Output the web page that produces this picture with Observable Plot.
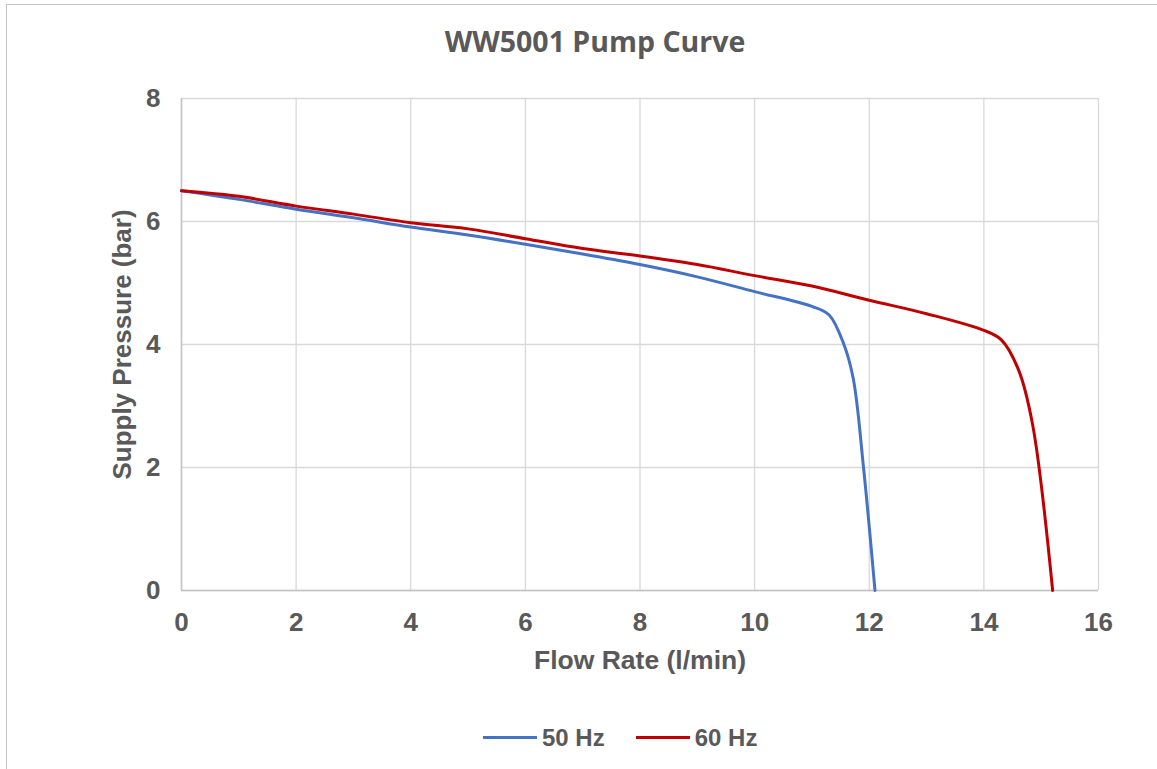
<!DOCTYPE html>
<html>
<head>
<meta charset="utf-8">
<script src="https://cdn.jsdelivr.net/npm/d3@7"></script>
<script src="https://cdn.jsdelivr.net/npm/@observablehq/plot@0.6"></script>
<style>
  html, body { margin: 0; padding: 0; background: #fff; }
  #wrap { position: relative; width: 1157px; height: 769px; overflow: hidden; background: #fff; }
  #border { position: absolute; left: 6px; top: 4px; width: 1200px; height: 800px; border-left: 1.5px solid #c4c4c4; border-top: 1.5px solid #c4c4c4; }
  #title { position: absolute; left: 0; width: 1190px; top: 27px; text-align: center; font-family: "Open Sans", sans-serif; font-weight: bold; font-size: 28.5px; line-height: 1; color: #595959; }
  #chart { position: absolute; left: 0; top: 80px; }
  #legend { position: absolute; left: 483px; top: 726px; display: flex; align-items: center; height: 23px; font-family: "Liberation Sans", Arial, sans-serif; font-weight: bold; font-size: 24px; line-height: 1; color: #595959; }
  .sw { width: 54px; height: 3px; margin-right: 5px; }
  .item { display: flex; align-items: center; }
</style>
</head>
<body>
<div id="wrap">
  <div id="border"></div>
  <div id="title"></div>
  <div id="chart"></div>
  <div id="legend"></div>
</div>
<script>
const chartTitle = "WW5001 Pump Curve";
const xTitle = "Flow Rate (l/min)";
const yTitle = "Supply Pressure (bar)";
const seriesNames = ["50 Hz", "60 Hz"];
const seriesColors = ["#4472C4", "#C00000"];
const xTicks = [0, 2, 4, 6, 8, 10, 12, 14, 16];
const yTicks = [0, 2, 4, 6, 8];

const flow50 = [0, 1, 2, 3, 4, 5, 6, 7, 8, 9, 10, 11, 11.3, 11.55, 11.72, 11.9, 12.1];
const pressure50 = [6.5, 6.36, 6.2, 6.06, 5.91, 5.78, 5.63, 5.47, 5.30, 5.10, 4.86, 4.62, 4.48, 4.02, 3.45, 2.0, 0];

const flow60 = [0, 1, 2, 3, 4, 5, 6, 7, 8, 9, 10, 11, 12, 13, 14, 14.3, 14.6, 14.85, 15.2];
const pressure60 = [6.5, 6.41, 6.25, 6.12, 5.98, 5.88, 5.72, 5.56, 5.44, 5.30, 5.12, 4.95, 4.72, 4.50, 4.23, 4.08, 3.6, 2.7, 0];

const data50 = flow50.map((f, i) => ({flow: f, pressure: pressure50[i]}));
const data60 = flow60.map((f, i) => ({flow: f, pressure: pressure60[i]}));

const fontFam = '"Liberation Sans", Arial, sans-serif';

const plot = Plot.plot({
  width: 1157,
  height: 620,
  marginTop: 18,
  marginBottom: 110,
  marginLeft: 181,
  marginRight: 59,
  style: {fontFamily: fontFam, fontSize: "26px", fontWeight: "bold", color: "#595959", background: "transparent", overflow: "visible"},
  x: {domain: [0, 16]},
  y: {domain: [0, 8]},
  marks: [
    Plot.gridX(xTicks, {stroke: "#d9d9d9", strokeOpacity: 1, strokeWidth: 1.3}),
    Plot.gridY(yTicks, {stroke: "#d9d9d9", strokeOpacity: 1, strokeWidth: 1.3}),
    Plot.ruleX([0], {stroke: "#c4c4c4", strokeWidth: 1.5}),
    Plot.ruleY([0], {stroke: "#c4c4c4", strokeWidth: 1.5}),
    Plot.axisX(xTicks, {tickSize: 0, tickPadding: 22, tickFormat: d => String(d), label: null, fontSize: 26, fontWeight: "bold"}),
    Plot.axisY(yTicks, {tickSize: 0, tickPadding: 21, tickFormat: d => String(d), label: null, fontSize: 26, fontWeight: "bold"}),
    Plot.line(data50, {x: "flow", y: "pressure", stroke: seriesColors[0], strokeWidth: 3, curve: "catmull-rom"}),
    Plot.line(data60, {x: "flow", y: "pressure", stroke: seriesColors[1], strokeWidth: 3, curve: "catmull-rom"}),
    Plot.text([xTitle], {text: d => d, frameAnchor: "bottom", textAnchor: "middle", lineAnchor: "middle", dy: 70, fontSize: 26.5, fontWeight: "bold", fill: "#595959"}),
    Plot.text([yTitle], {text: d => d, frameAnchor: "left", textAnchor: "middle", lineAnchor: "middle", dx: -59, rotate: -90, fontSize: 26, fontWeight: "bold", fill: "#595959"})
  ]
});
document.getElementById("chart").appendChild(plot);

document.getElementById("title").textContent = chartTitle;
const legend = document.getElementById("legend");
seriesNames.forEach((name, i) => {
  const item = document.createElement("div");
  item.className = "item";
  if (i > 0) item.style.marginLeft = "31px";
  const sw = document.createElement("div");
  sw.className = "sw";
  sw.style.background = seriesColors[i];
  const label = document.createElement("span");
  label.textContent = name;
  item.appendChild(sw);
  item.appendChild(label);
  legend.appendChild(item);
});
</script>
</body>
</html>
